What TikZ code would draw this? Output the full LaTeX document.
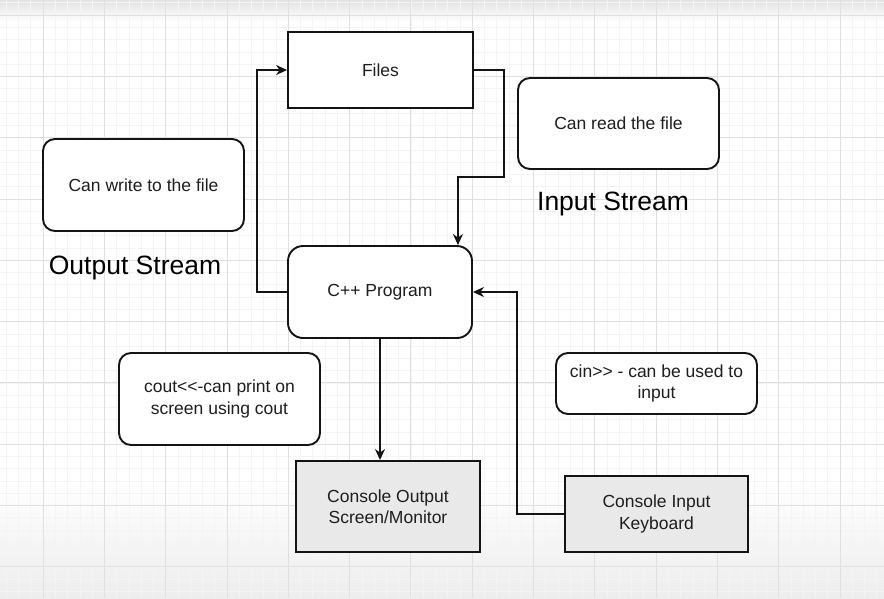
\documentclass[tikz,border=0pt]{standalone}
\usepackage{fontspec}
\newfontfamily\arialf{Liberation Sans}
\usetikzlibrary{arrows.meta,calc}
\definecolor{lineC}{HTML}{141414}
\definecolor{txtC}{HTML}{1E1E1E}
\definecolor{gridMajor}{HTML}{E0E0E0}
\definecolor{gridMinor}{HTML}{F4F4F4}
\definecolor{consoleFill}{HTML}{E9E9E9}
\tikzset{
  box/.style={draw=lineC, line width=1.9pt, fill=white, text=txtC,
    font=\arialf\fontsize{17.5}{21.5}\selectfont, align=center, inner sep=2pt},
  sqbox/.style={box, rounded corners=0pt},
  rbox/.style={box, rounded corners=12pt},
  conbox/.style={sqbox, fill=consoleFill},
  biglabel/.style={font=\arialf\fontsize{26.5}{30}\selectfont, text=black, inner sep=0pt},
  arr/.style={draw=lineC, line width=1.9pt, -{Stealth[length=11pt,width=10pt]}}
}
\begin{document}
\begin{tikzpicture}[x=1pt,y=-1pt]
\useasboundingbox (0,0) rectangle (884,598);
\fill[white] (0,0) rectangle (884,598);
% background fades
\shade[top color=gray!22, bottom color=white] (0,0) rectangle (884,22);
\shade[top color=white, bottom color=gray!14] (0,480) rectangle (884,598);
% grid
\foreach \i in {0,...,75} {
  \draw[gridMinor, line width=0.5pt] ({-18.3+12.26*\i},0) -- ({-18.3+12.26*\i},598);
}
\foreach \i in {0,...,50} {
  \draw[gridMinor, line width=0.5pt] (0,{15+12.26*(\i-1)}) -- (884,{15+12.26*(\i-1)});
}
\foreach \i in {0,...,14} {
  \draw[gridMajor, line width=0.8pt] ({43+61.3*\i},0) -- ({43+61.3*\i},598);
}
\foreach \i in {0,...,9} {
  \draw[gridMajor, line width=0.8pt] (0,{15+61.3*\i}) -- (884,{15+61.3*\i});
}

% nodes
\node[sqbox, minimum width=185pt, minimum height=76pt] (files) at (380.5,70) {Files};
\node[rbox, minimum width=201pt, minimum height=91pt] (read) at (618.5,123.5) {Can read the file};
\node[rbox, minimum width=201pt, minimum height=92pt] (write) at (143.5,185) {Can write to the file};
\node[biglabel] (instream) at (613,204) {Input Stream};
\node[biglabel] (outstream) at (135,268) {Output Stream};
\node[box, rounded corners=15pt, minimum width=184pt, minimum height=92pt] (cpp) at (380,292) {C++ Program};
\node[rbox, minimum width=201pt, minimum height=92pt] (cout) at (219.5,399) {cout<<-can print on\\screen using cout};
\node[rbox, minimum width=201pt, minimum height=61pt] (cin) at (656.5,383.5) {cin>> - can be used to\\input};
\node[conbox, minimum width=184pt, minimum height=91pt] (conout) at (388,506.5) {Console Output\\Screen/Monitor};
\node[conbox, minimum width=183pt, minimum height=76pt] (conin) at (656.5,514) {Console Input\\Keyboard};

% connectors
\coordinate (inT) at ($(cpp.north east)+(-15,0)$);
\draw[arr] (cpp.west) -- ++(-30,0) |- (files.west);
\draw[arr] (files.east) -- ++(30,0) -- ++(0,107) -| (inT);
\draw[arr] (cpp.south) -- (cpp.south |- conout.north);
\draw[arr] (conin.west) -- ++(-47,0) |- (cpp.east);
\end{tikzpicture}
\end{document}
